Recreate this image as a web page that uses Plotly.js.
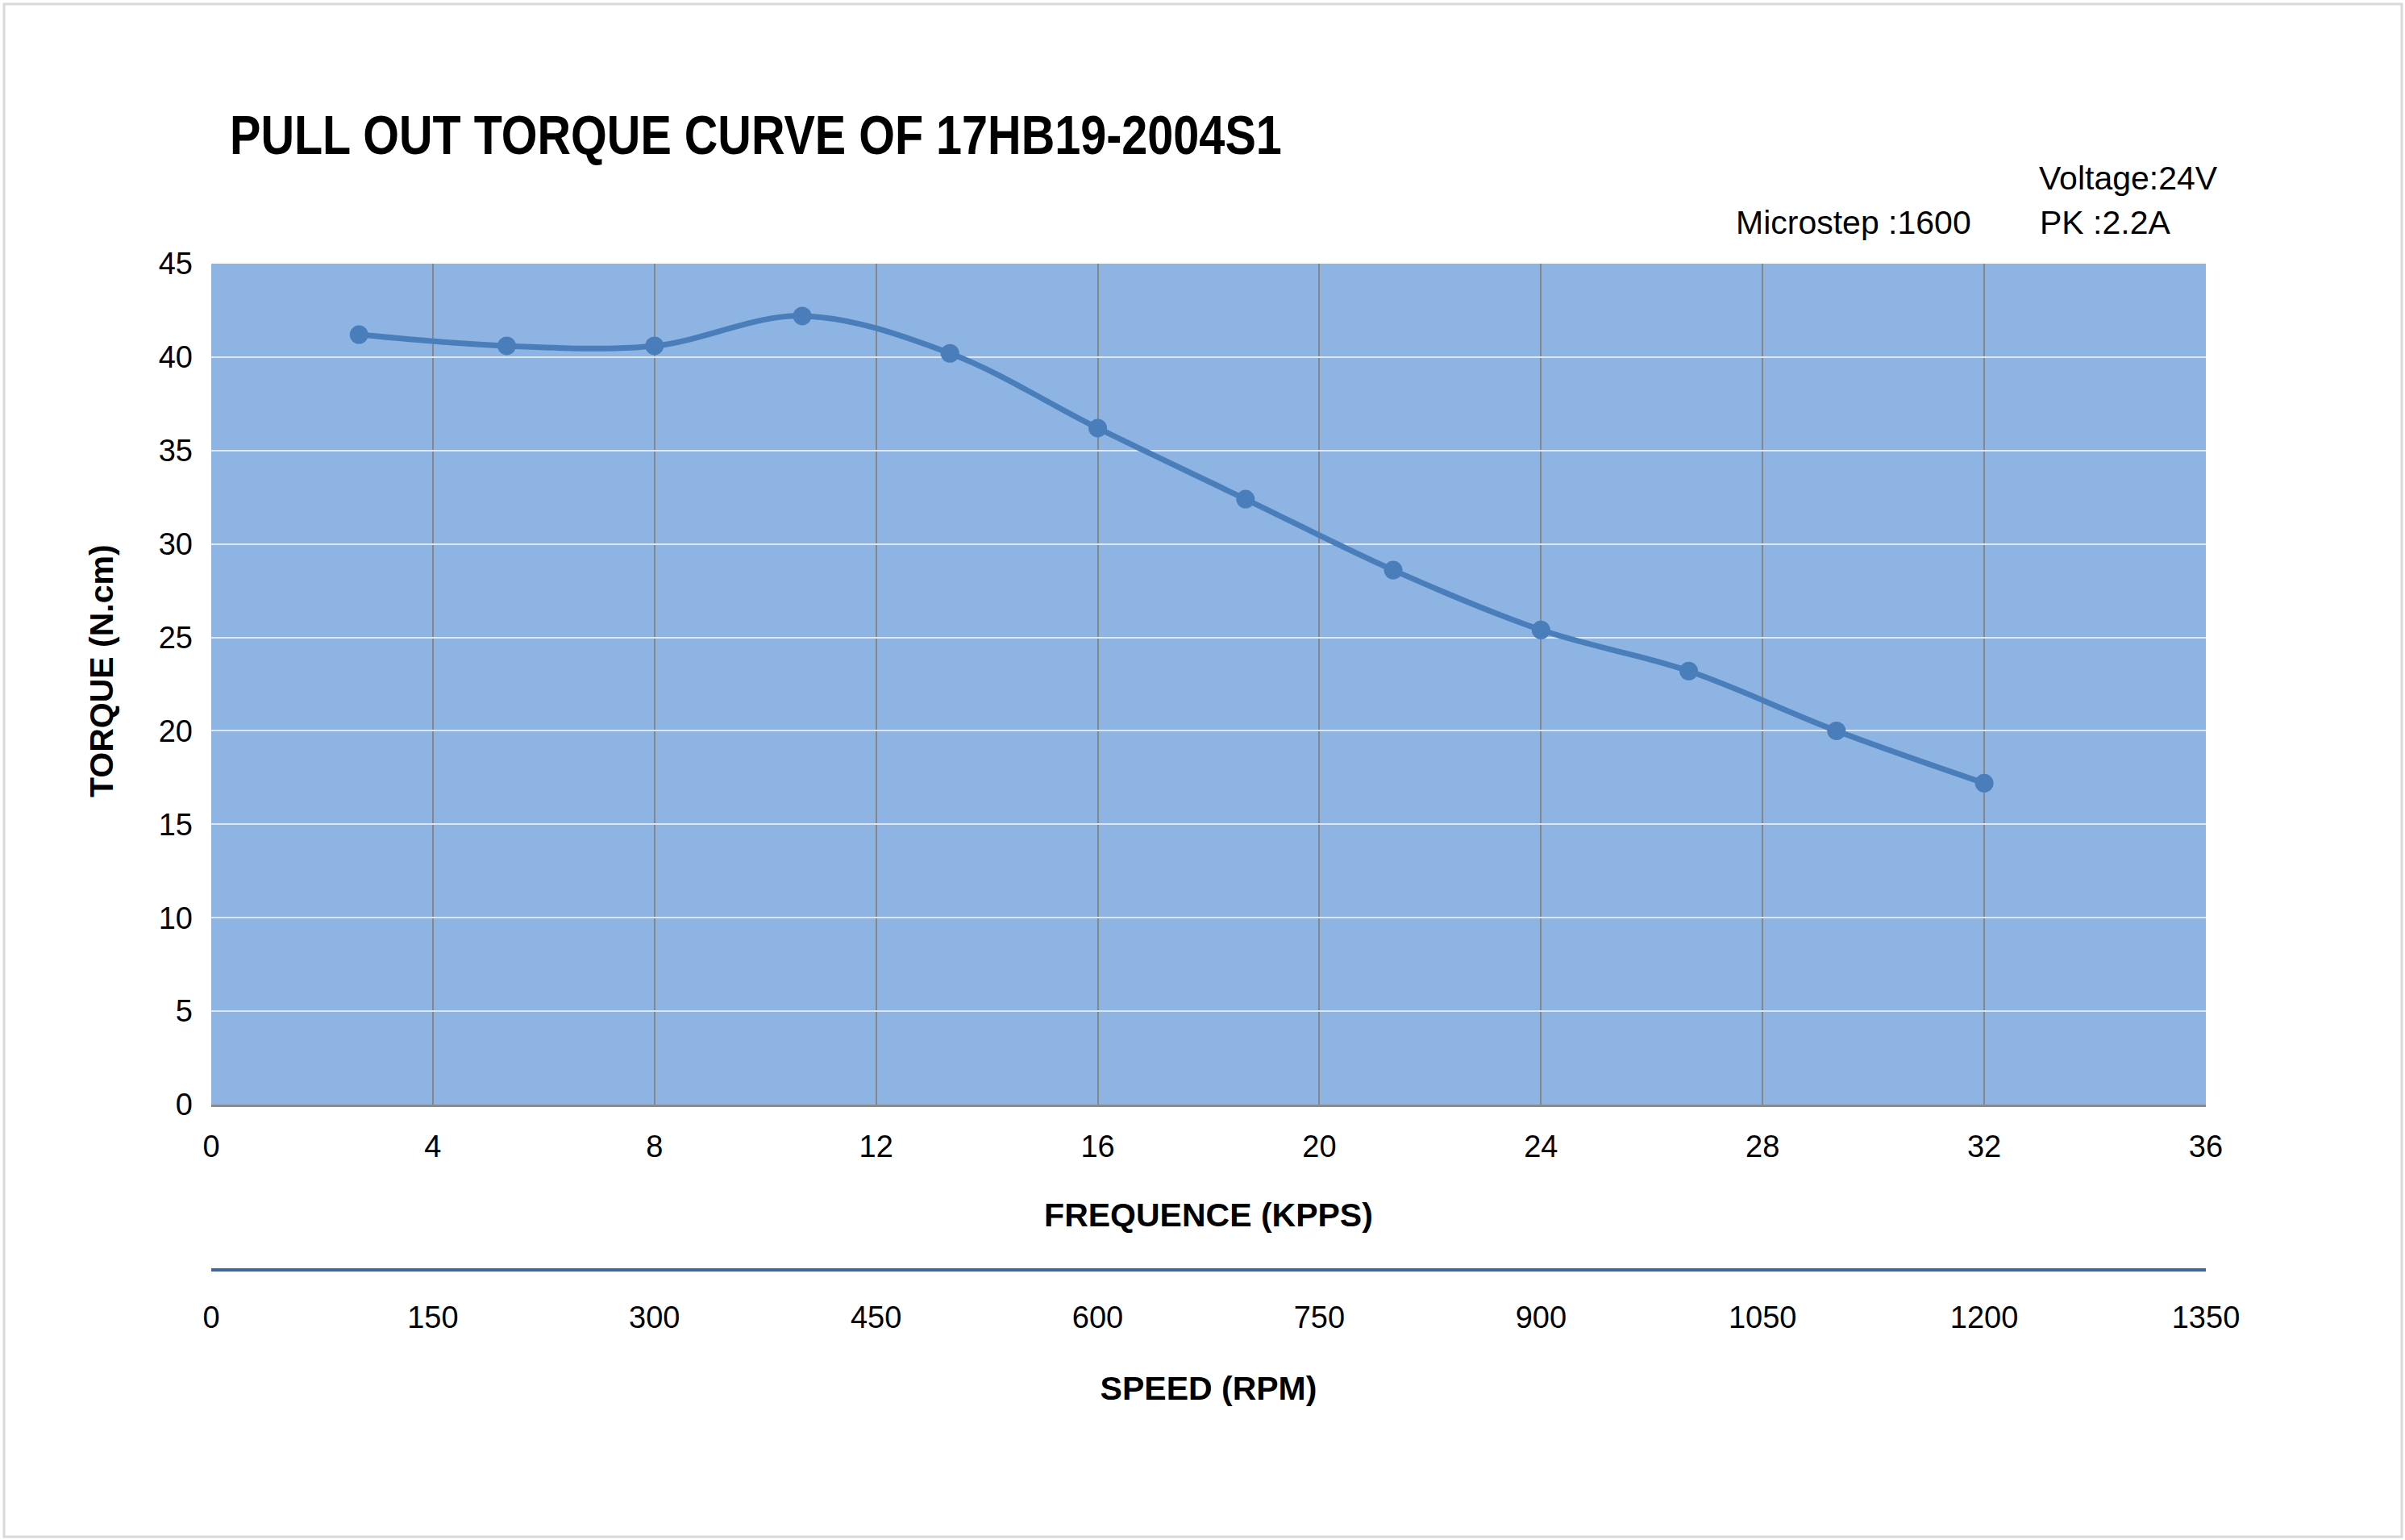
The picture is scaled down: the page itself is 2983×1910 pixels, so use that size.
<!DOCTYPE html>
<html>
<head>
<meta charset="utf-8">
<script src="https://cdn.plot.ly/plotly-3.0.1.min.js"></script>
<style>
  html, body { margin: 0; padding: 0; background: #ffffff; }
  #chart { width: 2983px; height: 1910px; }
</style>
</head>
<body>
<div id="chart"></div>
<script>
// ---- data ----
const freqKpps  = [2.667, 5.333, 8, 10.667, 13.333, 16, 18.667, 21.333, 24, 26.667, 29.333, 32];
const speedRpm  = [100, 200, 300, 400, 500, 600, 700, 800, 900, 1000, 1100, 1200];
const torqueNcm = [41.2, 40.6, 40.6, 42.2, 40.2, 36.2, 32.4, 28.6, 25.4, 23.2, 20.0, 17.2];

const freqTicks  = [0, 4, 8, 12, 16, 20, 24, 28, 32, 36];
const speedTicks = [0, 150, 300, 450, 600, 750, 900, 1050, 1200, 1350];
const torqueTicks = [0, 5, 10, 15, 20, 25, 30, 35, 40, 45];

const chartTitle = 'PULL OUT TORQUE CURVE OF 17HB19-2004S1';
const xTitle = 'FREQUENCE (KPPS)';
const x2Title = 'SPEED (RPM)';
const yTitle = 'TORQUE (N.cm)';
const noteVoltage = 'Voltage:24V';
const noteMicrostep = 'Microstep :1600';
const notePk = 'PK :2.2A';

// ---- drawing ----
const FONT = 'Liberation Sans, Arial, sans-serif';
const lineBlue = '#4A7EBB';

const traces = [
  {
    type: 'scatter',
    x: freqKpps,
    y: torqueNcm,
    xaxis: 'x',
    yaxis: 'y',
    mode: 'lines+markers',
    line: { shape: 'spline', smoothing: 1, color: lineBlue, width: 7 },
    marker: { size: 23, color: lineBlue },
    showlegend: false,
    hoverinfo: 'x+y'
  },
  {
    type: 'scatter',
    x: speedRpm,
    y: torqueNcm,
    xaxis: 'x2',
    yaxis: 'y',
    mode: 'none',
    showlegend: false,
    hoverinfo: 'skip'
  }
];

const layout = {
  width: 2983,
  height: 1910,
  margin: { l: 262, r: 247, t: 327, b: 335 },
  paper_bgcolor: '#ffffff',
  plot_bgcolor: '#8EB4E3',
  showlegend: false,
  font: { family: FONT, color: '#000000', size: 38 },
  title: {
    text: chartTitle,
    font: { family: FONT, size: 68, weight: 700, color: '#000000' },
    xref: 'container', yref: 'container',
    x: 285 / 2983, xanchor: 'left',
    y: 1 - 167 / 1910, yanchor: 'middle'
  },
  xaxis: {
    range: [0, 36],
    tickmode: 'array',
    tickvals: freqTicks,
    ticks: '',
    ticklabelstandoff: 16,
    tickfont: { family: FONT, size: 38, color: '#000000' },
    showgrid: true,
    gridcolor: '#878787',
    gridwidth: 2,
    zeroline: false,
    showline: true,
    linecolor: '#8a8a8a',
    linewidth: 3,
    anchor: 'y',
    fixedrange: true,
    title: {
      text: xTitle,
      font: { family: FONT, size: 41, weight: 700, color: '#000000' },
      standoff: 51
    }
  },
  xaxis2: {
    overlaying: 'x',
    anchor: 'free',
    position: 0,
    side: 'bottom',
    range: [0, 1350],
    tickmode: 'array',
    tickvals: speedTicks,
    ticks: '',
    ticklabelstandoff: 24,
    tickfont: { family: FONT, size: 38, color: '#000000' },
    showgrid: false,
    zeroline: false,
    showline: true,
    linecolor: '#41669B',
    linewidth: 4,
    fixedrange: true,
    title: {
      text: x2Title,
      font: { family: FONT, size: 41, weight: 700, color: '#000000' },
      standoff: 53
    }
  },
  yaxis: {
    domain: [(1575 - 1370) / 1248, 1],
    range: [0, 45],
    tickmode: 'array',
    tickvals: torqueTicks,
    ticks: '',
    ticklabelstandoff: 22,
    tickfont: { family: FONT, size: 38, color: '#000000' },
    showgrid: true,
    gridcolor: '#dfe6ef',
    gridwidth: 2,
    zeroline: false,
    showline: false,
    fixedrange: true
  },
  annotations: [
    {
      text: yTitle, xref: 'paper', yref: 'paper',
      x: (126 - 262) / 2474, y: (1575 - 832) / 1248,
      xanchor: 'center', yanchor: 'middle', textangle: -90, showarrow: false,
      font: { family: FONT, size: 41, weight: 700, color: '#000000' }
    },
    {
      text: noteVoltage, xref: 'paper', yref: 'paper',
      x: (2527 - 262) / 2474, y: (1575 - 221) / 1248,
      xanchor: 'left', yanchor: 'middle', showarrow: false,
      font: { family: FONT, size: 41, color: '#000000' }
    },
    {
      text: noteMicrostep, xref: 'paper', yref: 'paper',
      x: (2151 - 262) / 2474, y: (1575 - 276) / 1248,
      xanchor: 'left', yanchor: 'middle', showarrow: false,
      font: { family: FONT, size: 41, color: '#000000' }
    },
    {
      text: notePk, xref: 'paper', yref: 'paper',
      x: (2528 - 262) / 2474, y: (1575 - 276) / 1248,
      xanchor: 'left', yanchor: 'middle', showarrow: false,
      font: { family: FONT, size: 41, color: '#000000' }
    }
  ],
  shapes: [
    {
      type: 'rect', xref: 'paper', yref: 'paper', layer: 'below',
      x0: (5 - 262) / 2474, x1: (2979 - 262) / 2474,
      y0: (1575 - 1906) / 1248, y1: (1575 - 5) / 1248,
      line: { color: '#d9d9d9', width: 3 },
      fillcolor: 'rgba(0,0,0,0)'
    }
  ]
};

Plotly.newPlot('chart', traces, layout, { staticPlot: true, displayModeBar: false }).then(function (gd) {
  // The reference title uses a condensed bold face; squeeze the real text horizontally
  // so that it spans the same width as in the picture (left edge kept in place).
  const t = gd.querySelector('.gtitle');
  if (t) {
    const bb = t.getBBox();
    const targetWidth = 1305;
    const k = targetWidth / bb.width;
    const x0 = bb.x;
    t.setAttribute('transform', 'translate(' + x0 + ',0) scale(' + k + ',1) translate(' + (-x0) + ',0)');
  }
});
</script>
</body>
</html>
